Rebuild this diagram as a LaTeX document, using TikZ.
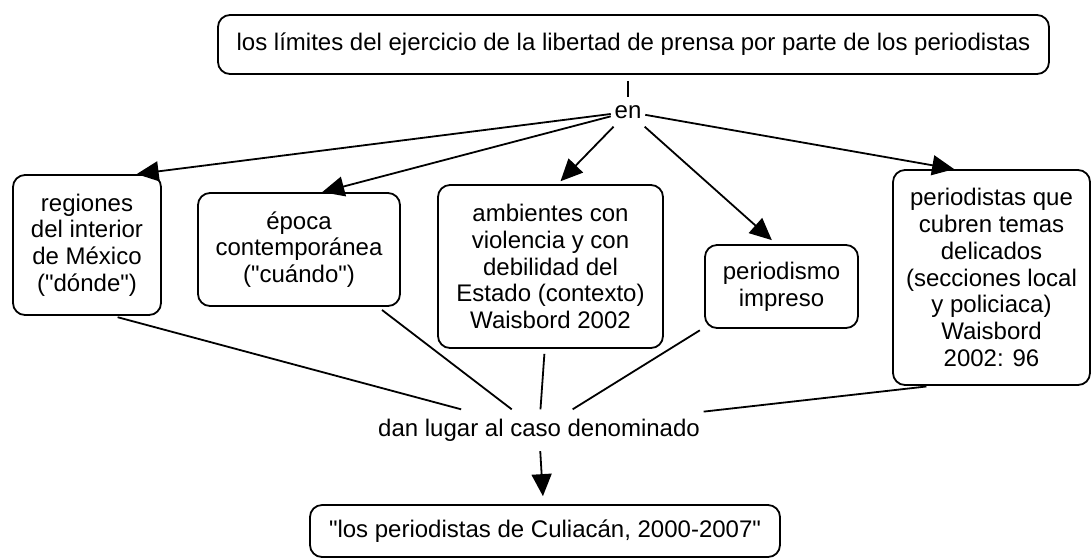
\documentclass[tikz,border=0pt]{standalone}
\usepackage{fontspec}
\setmainfont{Liberation Sans}
\usetikzlibrary{positioning,arrows.meta}
\tikzset{
    concept/.style={
        rectangle, rounded corners=6pt,
        draw, line width=0.9pt,
        align=center, inner sep=3pt,
        font=\fontsize{12}{13.4}\selectfont
    },
    linkword/.style={
        inner sep=1.5pt, text height=8.6pt, text depth=2.4pt,
        font=\fontsize{12}{13.4}\selectfont
    }
}

\begin{document}
\begin{tikzpicture}[x=0.5pt, y=-0.5pt, >={Triangle[length=11pt,width=10pt]}, line width=0.9pt]
        \useasboundingbox (0,0) rectangle (1091,559);

        % Focus question
        \node[concept, minimum width=415.5pt, minimum height=29.5pt] (limites) at (633.5,44.5)
            {los límites del ejercicio de la libertad de prensa por parte de los periodistas};
        \node[linkword, below=11pt of limites, xshift=-2.75pt] (en) {en};

        % Dimensions
        \node[concept, minimum width=74pt, minimum height=70pt] (regiones) at (87,245)
            {regiones\\del interior\\de México\\(\textquotedbl dónde\textquotedbl)};
        \node[concept, minimum width=101pt, minimum height=56.5pt] (epoca) at (299,249.5)
            {época\\contemporánea\\(\textquotedbl cuándo\textquotedbl)};
        \node[concept, minimum width=112.5pt, minimum height=81.5pt] (ambientes) at (550.5,266.5)
            {ambientes con\\violencia y con\\debilidad del\\Estado (contexto)\\Waisbord 2002};
        \node[concept, minimum width=76.5pt, minimum height=41.5pt] (periodismo) at (781.5,286.5)
            {periodismo\\impreso};
        \node[concept, minimum width=98.5pt, minimum height=107.5pt] (periodistas) at (991.5,277.5)
            {periodistas que\\cubren temas\\delicados\\(secciones local\\y policiaca)\\Waisbord\\2002: 96};

        % Case
        \node[concept, minimum width=235pt, minimum height=26pt] (caso) at (545,531)
            {\textquotedbl los periodistas de Culiacán, 2000-2007\textquotedbl};
        \node[linkword, minimum height=20pt, above=26.5pt of caso, xshift=-3pt] (dan)
            {dan lugar al caso denominado};

        % Links
        \draw[shorten <=3pt] (en |- limites.south) -- (en);
        \draw[->] (en) -- (regiones.55);
        \draw[->] (en) -- (epoca.68);
        \draw[->, shorten >=2pt] (en) -- (ambientes.85);
        \draw[->, shorten >=3pt] (en) -- (periodismo.97);
        \draw[->] (en) -- (periodistas.109);

        \draw[shorten <=2.5pt] (regiones.-70) -- (dan);
        \draw[shorten <=2.5pt] (epoca.-36) -- (dan);
        \draw[shorten <=2.5pt] (ambientes.-94) -- (dan);
        \draw[shorten <=2.5pt] (periodismo.-152) -- (dan);
        \draw[shorten <=2.5pt] (periodistas.-119) -- (dan);
        \draw[->, shorten >=4pt] (dan) -- (caso);

    \end{tikzpicture}
\end{document}
